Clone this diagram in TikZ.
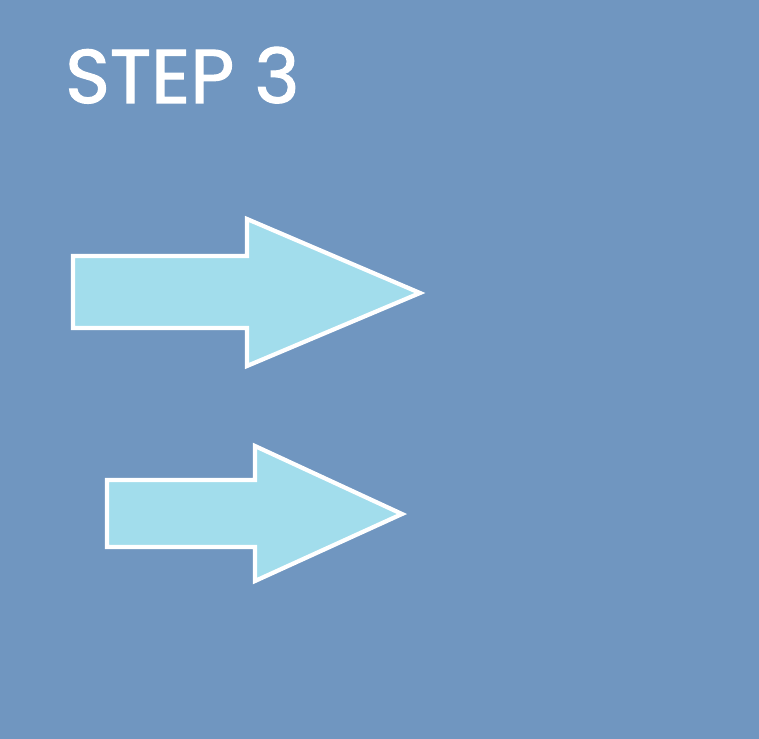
\documentclass[tikz,border=0pt]{standalone}
\usepackage{fontspec}
\newfontfamily\stepfont[FakeBold=1.5]{Poppins}
\definecolor{bgblue}{RGB}{112,150,192}
\definecolor{arrowcyan}{RGB}{162,221,236}
\usetikzlibrary{positioning}
\tikzset{
  bigarrow/.style={draw=white, fill=arrowcyan, line width=3.6pt, line join=miter},
  steptitle/.style={font=\stepfont\fontsize{65}{65}\selectfont, text=white, anchor=base west, inner sep=0pt}
}

\begin{document}
\begin{tikzpicture}[x=0.03cm, y=-0.03cm]
  % Background
  \fill[bgblue] (0,0) rectangle (759,739);
  \useasboundingbox (0,0) rectangle (759,739);

  % Title
  \node[steptitle] (title) at (65,103) {STEP 3};

  % Upper arrow
  \draw[bigarrow] (73,256) -- (247,256) -- (247,219) -- (420,293)
    -- (247,366) -- (247,328) -- (73,328) -- cycle;

  % Lower arrow
  \draw[bigarrow] (107,480) -- (255,480) -- (255,446) -- (402,514)
    -- (255,581) -- (255,547) -- (107,547) -- cycle;
\end{tikzpicture}
\end{document}
